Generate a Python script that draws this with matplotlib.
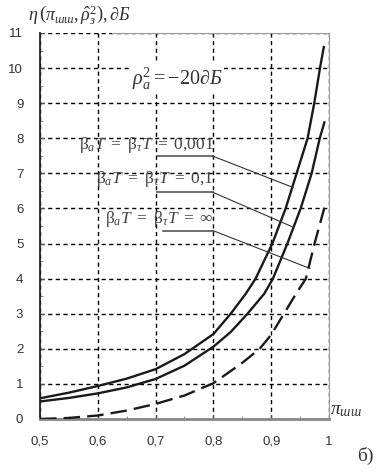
import matplotlib.pyplot as plt
from matplotlib.ticker import MultipleLocator, FixedLocator

plt.rcParams['mathtext.fontset'] = 'custom'
plt.rcParams['mathtext.rm'] = 'Liberation Serif'
plt.rcParams['mathtext.it'] = 'Liberation Serif:italic'
plt.rcParams['mathtext.bf'] = 'Liberation Serif:bold'

# curve for beta*T = 0.001
x_001 = [0.5, 0.55, 0.6, 0.65, 0.7, 0.75, 0.8, 0.83, 0.856, 0.873, 0.902, 0.925, 0.944, 0.963, 0.9745, 0.9844, 0.991]
y_001 = [0.59, 0.75, 0.94, 1.15, 1.42, 1.85, 2.42, 3.0, 3.57, 4.0, 5.0, 6.0, 7.0, 8.0, 9.0, 10.0, 10.6]
# curve for beta*T = 0.1
x_01 = [0.5, 0.55, 0.6, 0.65, 0.7, 0.75, 0.8, 0.83, 0.859, 0.888, 0.903, 0.928, 0.951, 0.970, 0.984, 0.992]
y_01 = [0.5, 0.6, 0.73, 0.9, 1.14, 1.52, 2.06, 2.48, 3.0, 3.57, 4.0, 5.0, 6.0, 7.0, 8.0, 8.45]
# curve for beta*T = inf (dashed)
x_inf = [0.5, 0.55, 0.6, 0.65, 0.7, 0.75, 0.8, 0.85, 0.88, 0.9, 0.922, 0.943, 0.96, 0.975, 0.992]
y_inf = [0.0, 0.03, 0.1, 0.24, 0.43, 0.67, 1.02, 1.6, 2.0, 2.4, 3.0, 3.57, 4.0, 5.0, 6.02]

xticks = [0.5, 0.6, 0.7, 0.8, 0.9, 1.0]
xtick_labels = ['0,5', '0,6', '0,7', '0,8', '0,9', '1']
yticks = list(range(0, 12))

labels = [r'$\mathrm{\beta}_a T\ =\ \mathrm{\beta}_\tau T\ =\ 0{,}001$',
          r'$\mathrm{\beta}_a T\ =\ \mathrm{\beta}_\tau T\ =\ 0{,}1$',
          r'$\mathrm{\beta}_a T\ =\ \mathrm{\beta}_\tau T\ =\ \infty$']
# text y, underline start, leader end point
label_y = [7.8, 6.83, 5.69]
line_y = [7.49, 6.46, 5.37]
line_x0 = [0.703, 0.703, 0.712]
leader_end = [(0.9375, 6.6), (0.939, 5.46), (0.967, 4.29)]

fig = plt.figure(figsize=(3.83, 4.72), dpi=100)
ax = fig.add_axes([0.1044, 0.1123, 0.7546, 0.8178])

ax.plot(x_001, y_001, color='#1a1a1a', lw=1.7, zorder=3)
ax.plot(x_01, y_01, color='#1a1a1a', lw=1.7, zorder=3)
ax.plot(x_inf, y_inf, color='#1a1a1a', lw=1.7, ls=(0, (7, 3)), zorder=3)

for t, ty, ly, lx0, (ex, ey) in zip(labels, label_y, line_y, line_x0, leader_end):
    ax.text(0.801, ty, t, ha='right', va='center', fontsize=12.5, color='#444444', zorder=4)
    ax.plot([lx0, 0.799], [ly, ly], color='#555555', lw=1.2, zorder=4)
    ax.plot([0.799, ex], [ly, ey], color='#333333', lw=0.8, zorder=4)

ax.text(0.66, 9.69, r'$\rho_a^2 = -20\partial Б$', ha='left', va='center', fontsize=14.5,
        color='#333333', zorder=5, bbox=dict(facecolor='white', edgecolor='none', pad=1))

ax.set_xlim(0.5, 1.0)
ax.set_ylim(0, 11)
ax.set_xticks(xticks)
ax.set_xticklabels(xtick_labels)
ax.set_yticks(yticks)
ax.xaxis.set_minor_locator(FixedLocator([0.55, 0.65, 0.75, 0.85, 0.95]))
ax.yaxis.set_minor_locator(MultipleLocator(0.5))
ax.tick_params(which='major', direction='in', length=3, labelsize=9.5, labelcolor='#333333',
               color='#555555', pad=12)
ax.tick_params(which='minor', direction='in', length=2, color='#777777')
for lab in ax.get_xticklabels() + ax.get_yticklabels():
    lab.set_family('Liberation Sans')

ax.grid(True, which='major', color='black', ls=(0, (3, 2.5)), lw=1.0)
ax.spines['left'].set_color('#222222')
ax.spines['left'].set_linewidth(1.3)
ax.spines['bottom'].set_color('#888888')
ax.spines['bottom'].set_linewidth(2)
ax.spines['right'].set_color('#999999')
ax.spines['top'].set_color('#999999')
ax.spines['top'].set_bounds(0.625, 1.0)

fig.text(0.073, 0.968, r'$\eta\,\left(\pi_{шш},\hat{\rho}_з^2\right),\partial Б$', ha='left', va='center',
         fontsize=13, color='#333333')
ax.text(1.005, 0.0, r'$\pi_{шш}$', transform=ax.transAxes, ha='left', va='bottom',
        fontsize=14, color='#333333')
fig.text(0.955, 0.035, 'б)', ha='center', va='center', fontsize=14, family='Liberation Serif',
         color='#333333')

fig.savefig('out.png', dpi=100)
